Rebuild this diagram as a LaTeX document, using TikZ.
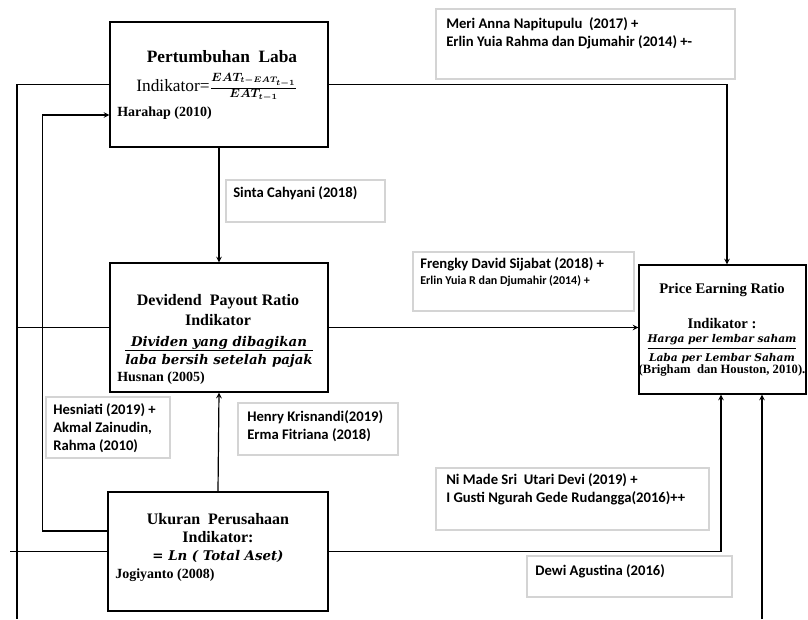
\documentclass[tikz,border=0pt]{standalone}
\usepackage{fontspec}
\usepackage{amsmath}
\setmainfont{Liberation Serif}
\newfontfamily\labelfont{Carlito}
\newfontfamily\eqfont{DejaVu Serif}
\usetikzlibrary{arrows,positioning,calc,fit}
\definecolor{labelgray}{RGB}{212,212,212}

\begin{document}
\begin{tikzpicture}[
    x=0.75pt, y=-0.75pt,
    varbox/.style={draw, line width=0.9pt, inner sep=0pt},
    labelbox/.style={draw=labelgray, line width=0.8pt, inner sep=0pt},
    titletext/.style={font=\fontsize{12}{14}\selectfont\bfseries, inner sep=0pt},
    eqtext/.style={inner sep=0pt, font=\eqfont\fontsize{#1}{#1}\selectfont\bfseries\itshape},
    sourcetext/.style={anchor=west, font=\fontsize{10.5}{12}\selectfont\bfseries, inner sep=0pt},
    reftext/.style={anchor=west, font=\labelfont\fontsize{11}{13}\selectfont\bfseries, inner sep=0pt},
    conn/.style={line width=0.9pt},
    arrow/.style={->, >=stealth, line width=0.9pt}
]
\useasboundingbox (0,0) rectangle (808,619);

% Variable boxes
\node[varbox, fit={(110,22) (328,147)}] (laba) {};
\node[varbox, fit={(110,263) (328,392)}] (dpr) {};
\node[varbox, fit={(108,492) (328,611)}] (ukuran) {};
\node[varbox, fit={(639,265) (806,394)}] (per) {};

% Pertumbuhan Laba
\node[titletext, font=\fontsize{13}{15}\selectfont\bfseries] (labatitle) at (222,57) {Pertumbuhan\ \ Laba};
\node[inner sep=0pt, font=\fontsize{13}{15}\selectfont] (labaind) at (217,87) {Indikator={\boldmath$\frac{EAT_{t-EAT_{t-1}}}{EAT_{t-1}}$}};
\node[sourcetext] (labasrc) at (117,113) {Harahap (2010)};

% Devidend Payout Ratio
\node[titletext] (dprtitle) at (218,302) {Devidend\ \ Payout Ratio};
\node[titletext] (dprind) at (218,320) {Indikator};
\node[eqtext=10] (dprfrac) at (219,352.5) {\begin{tabular}{@{}c@{}}Dividen yang dibagikan\\[-1pt]\hline\rule{0pt}{10.5pt}laba bersih setelah pajak\end{tabular}};
\node[sourcetext] (dprsrc) at (117,378) {Husnan (2005)};

% Ukuran Perusahaan
\node[titletext] (ukurantitle) at (218,519) {Ukuran\ \ Perusahaan};
\node[titletext] (ukuranind) at (218,537) {Indikator:};
\node[eqtext=10] (ukuranln) at (218,556) {{\upshape =} Ln ( Total Aset)};
\node[sourcetext] (ukuransrc) at (115,575) {Jogiyanto (2008)};

% Price Earning Ratio
\node[titletext, font=\fontsize{11}{13}\selectfont\bfseries] (pertitle) at (722,290) {Price Earning Ratio};
\node[titletext, font=\fontsize{11}{13}\selectfont\bfseries] (perind) at (722,324) {Indikator :};
\node[eqtext=8] (perfrac) at (722,349.5) {\begin{tabular}{@{}c@{}}Harga per lembar saham\\[2pt]\hline\rule{0pt}{9.5pt}Laba per Lembar Saham\end{tabular}};
\node[inner sep=0pt, font=\fontsize{9.5}{11}\selectfont\bfseries] (persrc) at (722,370) {(Brigham\ \ dan Houston, 2010).};

% Reference boxes
\node[labelbox, fit={(436,9) (735,79)}] (refA) {};
\node[reftext] at (446,24) {Meri Anna Napitupulu\ \ (2017) +};
\node[reftext] at (446,42) {Erlin Yuia Rahma dan Djumahir (2014) +-};

\node[labelbox, fit={(226,180) (385,222)}] (refB) {};
\node[reftext] at (233,193) {Sinta Cahyani (2018)};

\node[labelbox, fit={(413,252) (634,311)}] (refC) {};
\node[reftext] at (420,264) {Frengky David Sijabat (2018) +};
\node[reftext, font=\labelfont\fontsize{9}{11}\selectfont\bfseries] at (420,281) {Erlin Yuia R dan Djumahir (2014) +};

\node[labelbox, fit={(46,397) (170,458)}] (refD) {};
\node[reftext] at (53,410) {Hesniati (2019) +};
\node[reftext] at (53,428) {Akmal Zainudin,};
\node[reftext] at (53,446) {Rahma (2010)};

\node[labelbox, fit={(238,403) (398,455)}] (refE) {};
\node[reftext] at (247,417) {Henry Krisnandi(2019)};
\node[reftext] at (247,435) {Erma Fitriana (2018)};

\node[labelbox, fit={(436,468) (709,530)}] (refF) {};
\node[reftext] at (446,480) {Ni Made Sri\ \ Utari Devi (2019) +};
\node[reftext] at (446,498) {I Gusti Ngurah Gede Rudangga(2016)++};

\node[labelbox, fit={(527,556) (732,597)}] (refG) {};
\node[reftext] at (535,571) {Dewi Agustina (2016)};

% Free ends
\coordinate (leftbottom) at (17,619);
\coordinate (rightbottom) at (762,619);
\coordinate (cstub) at (10,551.5);

% Arrows - main flow
\draw[arrow] (laba.south) -- (dpr.north);
\draw[arrow] (ukuran.north) -- (dpr.south);
\draw[arrow] (dpr.east) -- (per.west |- dpr.east);
\draw[arrow] (laba.east) -| ($(per.north)+(4.5,0)$);
\draw[arrow] (ukuran.east) -| ($(per.south)+(-1.5,0)$);
\draw[arrow] (rightbottom) -- (rightbottom |- per.south);

% Lines - left side
\draw[conn] (laba.west) -| (leftbottom);
\draw[conn] (dpr.west) -- (leftbottom |- dpr.west);
\draw[conn] (cstub) -- (ukuran.west);
\draw[arrow] ($(ukuran.west)+(0,-20.5)$) -- ++(-65,0) |- ($(laba.west)+(0,30.5)$);

\end{tikzpicture}
\end{document}
